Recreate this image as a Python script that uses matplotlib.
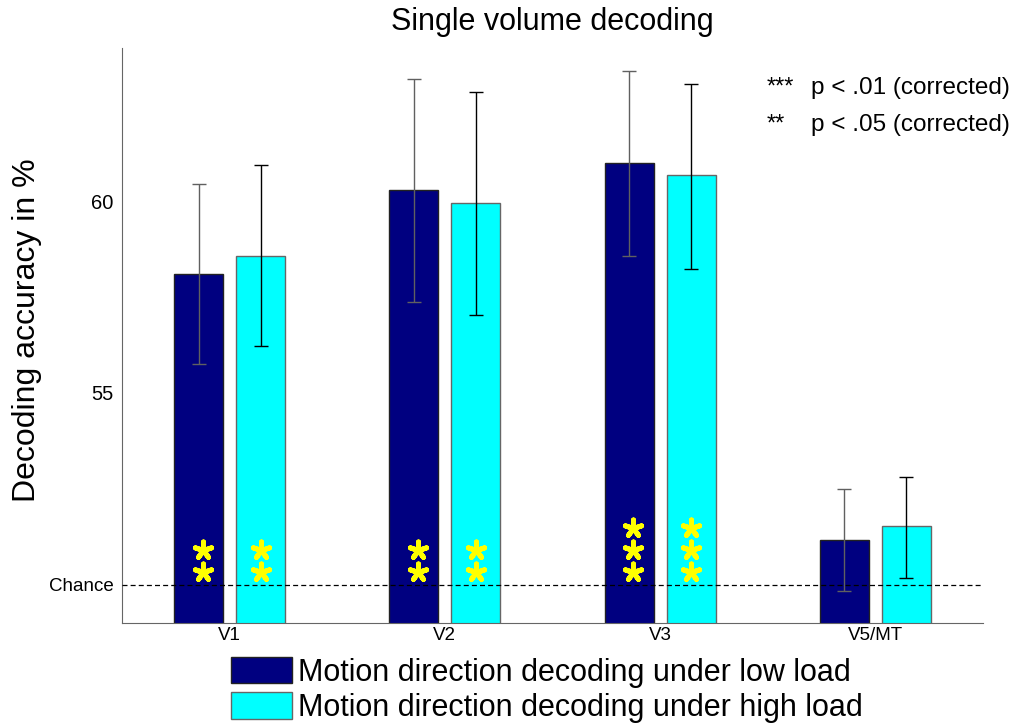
import numpy as np
import matplotlib.pyplot as plt
from matplotlib.patches import Patch

plt.rcParams['font.family'] = ['Liberation Sans', 'DejaVu Sans']

# data
regions = ["V1", "V2", "V3", "V5/MT"]
low_load = [58.1, 60.29, 60.99, 51.17]
high_load = [58.57, 59.95, 60.68, 51.54]
low_err_top = [60.44, 63.2, 63.39, 52.5]
low_err_bot = [55.76, 57.37, 58.57, 49.84]
high_err_top = [60.94, 62.86, 63.07, 52.81]
high_err_bot = [56.22, 57.03, 58.23, 50.18]
low_stars = [2, 2, 3, 0]
high_stars = [2, 2, 3, 0]
chance = 50

x = np.arange(1, len(regions) + 1)
w = 0.228
off = 0.144

W, H = 1020, 724
fig = plt.figure(figsize=(W / 100, H / 100), dpi=100)
ax = fig.add_axes([122 / W, 1 - 623 / H, (983 - 122) / W, (623 - 48) / H])

navy = "#000080"
cyan = "#00ffff"

ax.bar(x - off, low_load, w, color=navy, edgecolor="#222222", linewidth=1, zorder=2)
ax.bar(x + off, high_load, w, color=cyan, edgecolor="#666666", linewidth=1, zorder=2)

lo = np.array(low_load)
hi = np.array(high_load)
ax.errorbar(x - off, lo, yerr=[lo - np.array(low_err_bot), np.array(low_err_top) - lo],
            fmt="none", ecolor="#606060", elinewidth=1, capsize=5, zorder=3)
ax.errorbar(x + off, hi, yerr=[hi - np.array(high_err_bot), np.array(high_err_top) - hi],
            fmt="none", ecolor="black", elinewidth=1, capsize=5, zorder=3)

# significance asterisks
star_y = [50.34, 50.91, 51.48]
for xi, n1, n2 in zip(x, low_stars, high_stars):
    if n1:
        ax.scatter([xi - off + 0.02] * n1, star_y[:n1], marker=(5, 2, 0), s=150,
                   color="#ffff00", linewidths=3.6, zorder=4)
    if n2:
        ax.scatter([xi + off] * n2, star_y[:n2], marker=(5, 2, 0), s=150,
                   color="#ffff00", linewidths=3.6, zorder=4)

ax.axhline(chance, color="black", linestyle=(0, (4, 2.5)), linewidth=0.9, zorder=3)

ax.set_xlim(0.5, 4.5)
ax.set_ylim(49, 64)
ax.set_yticks([chance, 55, 60])
ax.set_yticklabels(["Chance", "55", "60"])
ax.set_xticks(x)
ax.set_xticklabels(regions)
ax.tick_params(axis="y", length=0, labelsize=13.5, pad=6)
ax.tick_params(axis="x", length=0, labelsize=13.5, pad=3)
for lab in ax.get_yticklabels():
    if lab.get_text() != "Chance":
        lab.set_fontsize(14.5)

for s in ["top", "right"]:
    ax.spines[s].set_visible(False)
ax.spines["left"].set_color("#666666")
ax.spines["bottom"].set_color("#666666")

ax.set_title("Single volume decoding", fontsize=22, pad=13)
fig.text(27 / W, 1 - 330 / H, "Decoding accuracy in %", fontsize=23, rotation=90,
         ha="center", va="center")

ax.text(767 / W, 1 - 88 / H, "***", transform=fig.transFigure, fontsize=17, va="center")
ax.text(811 / W, 1 - 88 / H, "p < .01 (corrected)", transform=fig.transFigure, fontsize=17.5, va="center")
ax.text(767 / W, 1 - 125 / H, "**", transform=fig.transFigure, fontsize=17, va="center")
ax.text(811 / W, 1 - 125 / H, "p < .05 (corrected)", transform=fig.transFigure, fontsize=17.5, va="center")

handles = [Patch(facecolor=navy, edgecolor="#222222"), Patch(facecolor=cyan, edgecolor="#666666")]
fig.legend(handles, ["Motion direction decoding under low load", "Motion direction decoding under high load"],
           loc="lower left", bbox_to_anchor=(210 / W, -0.028), frameon=False, fontsize=22,
           handlelength=2.0, handleheight=0.95, handletextpad=0.18, labelspacing=0.15, borderpad=0.2)

fig.savefig("out.png", dpi=100)
